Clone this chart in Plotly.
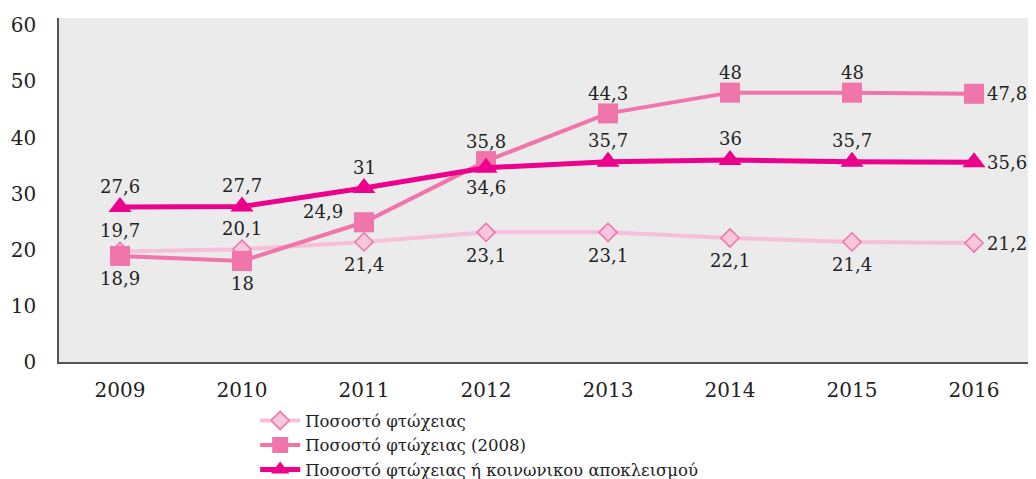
import plotly.graph_objects as go

years = ["2009", "2010", "2011", "2012", "2013", "2014", "2015", "2016"]
poverty = [19.7, 20.1, 21.4, 23.1, 23.1, 22.1, 21.4, 21.2]
poverty_2008 = [18.9, 18.0, 24.9, 35.8, 44.3, 48.0, 48.0, 47.8]
poverty_exclusion = [27.6, 27.7, 31.0, 34.6, 35.7, 36.0, 35.7, 35.6]

names = ["Ποσοστό φτώχειας", "Ποσοστό φτώχειας (2008)",
         "Ποσοστό φτώχειας ή κοινωνικου αποκλεισμού"]

# label placement per point
pos_poverty = ["top", "top", "bottom", "bottom", "bottom", "bottom", "bottom", "right"]
pos_2008 = ["bottom", "bottom", "left", "top", "top", "top", "top", "right"]
pos_excl = ["top", "top", "top", "bottom", "top", "top", "top", "right"]

FONT = "DejaVu Serif"
TXT = "#222222"

fig = go.Figure()

fig.add_trace(go.Scatter(
    x=years, y=poverty, name=names[0], mode="lines+markers",
    line=dict(color="#F8BFD8", width=4),
    marker=dict(symbol="diamond", size=14, color="#F8C6DC",
                line=dict(color="#EE74A8", width=1.5)),
))
fig.add_trace(go.Scatter(
    x=years, y=poverty_2008, name=names[1], mode="lines+markers",
    line=dict(color="#F075AA", width=4),
    marker=dict(symbol="square", size=20, color="#F075AA"),
))
fig.add_trace(go.Scatter(
    x=years, y=poverty_exclusion, name=names[2], mode="lines+markers",
    line=dict(color="#EC008C", width=5),
    marker=dict(symbol="triangle-up", size=20, color="#EC008C"),
))

def add_labels(vals, positions, up, down):
    for i, (v, p) in enumerate(zip(vals, positions)):
        txt = f"{v:g}".replace(".", ",")
        xs, ys = 0, 0
        xa = "center"
        if p == "top":
            ys = up
        elif p == "bottom":
            ys = -down
        elif p == "left":
            xs, ys = -41, 11
        elif p == "right":
            xs = 11
            xa = "left"
        fig.add_annotation(x=i, y=v, xref="x", yref="y", text=txt,
                           showarrow=False, xshift=xs, yshift=ys,
                           xanchor=xa, yanchor="middle",
                           font=dict(family=FONT, size=18, color=TXT))

add_labels(poverty, pos_poverty, 21, 23)
add_labels(poverty_2008, pos_2008, 20, 23)
add_labels(poverty_exclusion, pos_excl, 21, 20)

# page body has an 8px margin, so the figure is sized to fill the window
fig.update_layout(
    width=1028, height=471,
    margin=dict(l=51, r=1, t=10, b=117, autoexpand=False),
    paper_bgcolor="white",
    plot_bgcolor="#EBEBEB",
    showlegend=True,
    legend=dict(x=0.201, y=-0.12, xanchor="left", yanchor="top",
                font=dict(family=FONT, size=16.5, color=TXT),
                tracegroupgap=0, itemwidth=40, bgcolor="rgba(0,0,0,0)"),
    xaxis=dict(type="category", range=[-0.5, 7.5], showgrid=False,
               showline=True, linecolor="#555555", linewidth=1.5,
               ticks="", ticklabelstandoff=9,
               tickfont=dict(family=FONT, size=20, color=TXT)),
    yaxis=dict(range=[0, 61.3], tickvals=[0, 10, 20, 30, 40, 50, 60],
               showgrid=False, zeroline=False,
               showline=True, linecolor="#555555", linewidth=1.5,
               ticks="", ticklabelstandoff=17,
               tickfont=dict(family=FONT, size=20, color=TXT)),
)

fig.write_html("out.html")
